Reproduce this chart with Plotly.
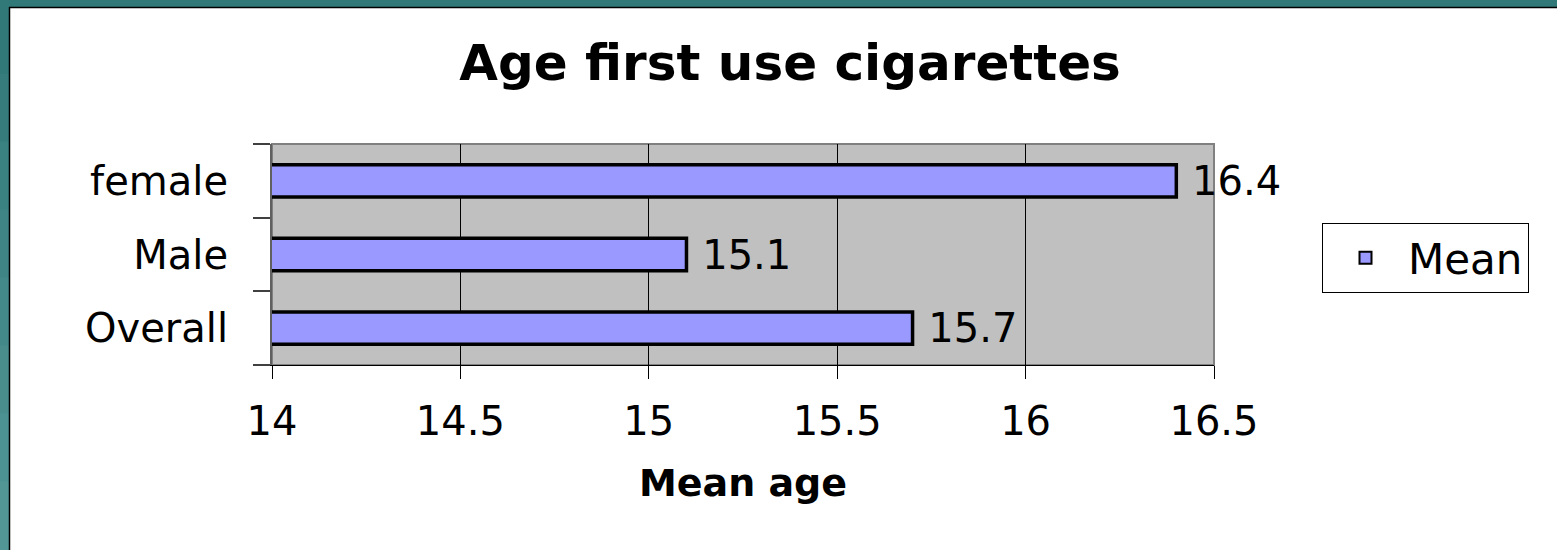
import plotly.graph_objects as go

# ---- data ----
categories = ["Overall", "Male", "female"]
mean_age = [15.7, 15.1, 16.4]
x_ticks = [14, 14.5, 15, 15.5, 16, 16.5]
x_tick_labels = ["14", "14.5", "15", "15.5", "16", "16.5"]
series_name = "Mean"
title_text = "Age first use cigarettes"
x_title = "Mean age"

W, H = 1557, 550
L, R, T, B = 272, 1214, 144, 365  # plot area in pixels

FONT = "DejaVu Sans"


def px(xp):
    return (xp - L) / (R - L)


def py(yp):
    return (B - yp) / (B - T)


fig = go.Figure()
fig.add_trace(go.Bar(
    y=categories, x=mean_age, orientation="h", name=series_name,
    marker=dict(color="#9999FF", line=dict(color="black", width=3.5)),
    width=0.44,
    text=[f"{v:.1f}" for v in mean_age],
    texttemplate=" %{text}",
    textposition="outside", constraintext="none", cliponaxis=False,
    textfont=dict(family=FONT, size=40, color="black"),
))

shapes = []
# teal frame: top band
shapes.append(dict(type="rect", xref="paper", yref="paper", x0=px(0), x1=px(W), y0=py(0), y1=py(7),
                   fillcolor="#317878", line=dict(width=0), layer="above"))
# left band with slight vertical gradient
n = 8
c0 = (49, 120, 120)
c1 = (82, 150, 150)
for i in range(n):
    t = i / (n - 1)
    col = "rgb(%d,%d,%d)" % tuple(round(a + (b - a) * t) for a, b in zip(c0, c1))
    shapes.append(dict(type="rect", xref="paper", yref="paper", x0=px(0), x1=px(9),
                       y0=py(7 + (H - 7) * i / n - 1), y1=py(7 + (H - 7) * (i + 1) / n + 1),
                       fillcolor=col, line=dict(width=0), layer="above"))
# dark edge lines
shapes.append(dict(type="line", xref="paper", yref="paper", x0=px(9), x1=px(W), y0=py(7.5), y1=py(7.5),
                   line=dict(color="black", width=1.5), layer="above"))
shapes.append(dict(type="line", xref="paper", yref="paper", x0=px(9.5), x1=px(9.5), y0=py(7), y1=py(H),
                   line=dict(color="black", width=1.5), layer="above"))
# plot-area border (gray)
shapes.append(dict(type="rect", xref="paper", yref="paper", x0=0, x1=1, y0=0, y1=1,
                   line=dict(color="#808080", width=2), fillcolor="rgba(0,0,0,0)", layer="below"))

fig.update_layout(
    width=W, height=H,
    margin=dict(l=L, r=W - R, t=T, b=H - B, pad=0),
    paper_bgcolor="white", plot_bgcolor="#C0C0C0",
    font=dict(family=FONT, color="black"),
    title=dict(text=f"<b>{title_text}</b>", x=790 / W, xanchor="center",
               y=1 - 62 / H, yanchor="middle", xref="container", yref="container",
               font=dict(family=FONT, size=50, color="black")),
    showlegend=True,
    legend=dict(x=px(1322), y=py(223), xanchor="left", yanchor="top",
                bordercolor="black", borderwidth=1, bgcolor="white",
                font=dict(family=FONT, size=42, color="black"), itemwidth=75,
                itemsizing="constant"),
    xaxis=dict(range=[14, 16.5], tickvals=x_ticks, ticktext=x_tick_labels,
               showgrid=True, gridcolor="black", gridwidth=1,
               ticks="outside", ticklen=13, tickcolor="black", tickwidth=1,
               showline=True, linecolor="black", linewidth=1,
               tickfont=dict(family=FONT, size=40), ticklabelstandoff=8,
               zeroline=False, fixedrange=True,
               title=dict(text=f"<b>{x_title}</b>", font=dict(family=FONT, size=38), standoff=26)),
    yaxis=dict(categoryorder="array", categoryarray=categories,
               tickson="boundaries", ticks="outside", ticklen=17, tickcolor="#404040", tickwidth=1.5,
               showline=True, linecolor="#606060", linewidth=2, showgrid=False,
               tickfont=dict(family=FONT, size=40), ticklabelstandoff=34, fixedrange=True),
    shapes=shapes,
)

fig.write_html(
    "out.html",
    config={"displayModeBar": False},
    post_script="document.body.style.margin='0';document.body.style.overflow='hidden';",
)
